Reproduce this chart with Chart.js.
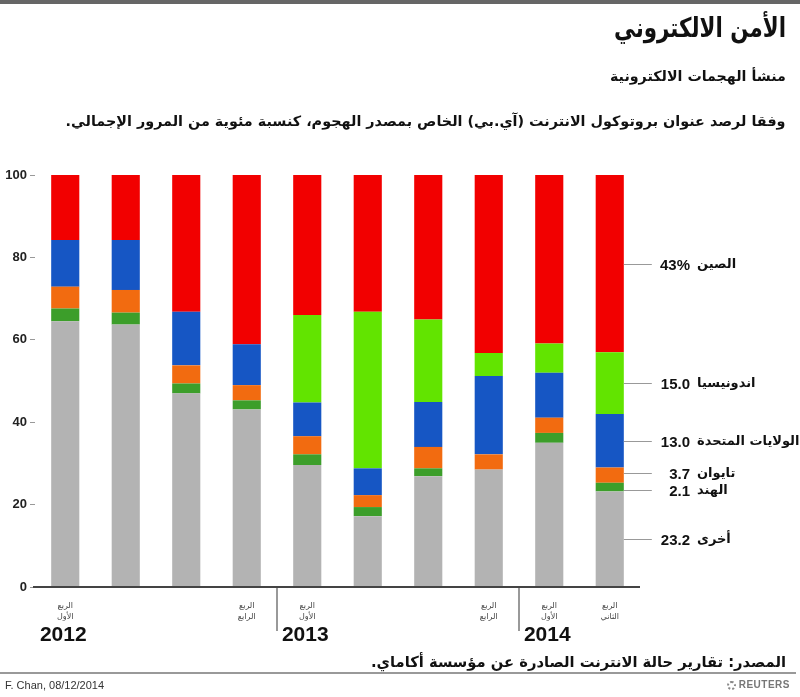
<!DOCTYPE html>
<html><head><meta charset="utf-8">
<script src="https://cdn.jsdelivr.net/npm/chart.js@4/dist/chart.umd.min.js"></script>
<style>
html,body{margin:0;padding:0;background:#fff;}
#wrap{position:relative;width:800px;height:697px;overflow:hidden;font-family:"DejaVu Sans",sans-serif;}
canvas{position:absolute;left:0;top:0;}
.t{position:absolute;direction:rtl;white-space:nowrap;color:#111;font-weight:bold;transform-origin:right center;}
</style></head><body>
<div id="wrap">
<canvas id="c" width="800" height="697"></canvas>
<div style="position:absolute;left:0;top:0;width:800px;height:4px;background:#666"></div>
<div class="t" id="title" style="right:14px;top:12px;font-size:27px;">الأمن الالكتروني</div>
<div class="t" id="sub" style="right:14px;top:68px;font-size:14px;">منشأ الهجمات الالكترونية</div>
<div class="t" id="desc" style="right:14px;top:113px;font-size:14px;">وفقا لرصد عنوان بروتوكول الانترنت (آي.بي) الخاص بمصدر الهجوم، كنسبة مئوية من المرور الإجمالي.</div>
<div class="t" id="src" style="right:14px;top:653px;font-size:15px;">المصدر: تقارير حالة الانترنت الصادرة عن مؤسسة أكاماي.</div>
<div style="position:absolute;left:0;top:672px;width:796px;height:2px;background:#999"></div>
<div style="position:absolute;left:5px;top:679px;font:11px 'Liberation Sans',sans-serif;color:#333">F. Chan, 08/12/2014</div>
<div style="position:absolute;right:10px;top:679px;font:bold 10px 'Liberation Sans',sans-serif;color:#777;letter-spacing:0.5px"><span style="display:inline-block;width:9px;height:9px;border:2px dotted #888;border-radius:50%;vertical-align:-2px;margin-right:3px;box-sizing:border-box"></span>REUTERS</div>
</div>
<script>
// ---- data ----
const categories = ['Q1 2012','Q2 2012','Q3 2012','Q4 2012','Q1 2013','Q2 2013','Q3 2013','Q4 2013','Q1 2014','Q2 2014'];
const tickLabels = [['الربع','الأول'],'','',['الربع','الرابع'],['الربع','الأول'],'','',['الربع','الرابع'],['الربع','الأول'],['الربع','الثاني']];
const yearLabels = ['2012','2013','2014'];
const yearFirstIndex = [0,4,8];
const otherVals     = [64.5, 63.7, 47.0, 43.1, 29.6, 17.2, 26.9, 28.5, 35.0, 23.2];
const indiaVals     = [3.1, 2.9, 2.4, 2.2, 2.6, 2.2, 1.9, 0, 2.4, 2.1];
const taiwanVals    = [5.3, 5.5, 4.4, 3.7, 4.4, 2.9, 5.2, 3.7, 3.7, 3.7];
const usVals        = [11.3, 12.1, 13.0, 9.9, 8.2, 6.5, 10.9, 19.0, 10.9, 13.0];
const indonesiaVals = [0, 0, 0, 0, 21.2, 38.0, 20.0, 5.6, 7.1, 15.0];
const chinaVals     = [15.8, 15.8, 33.2, 41.1, 34.0, 33.2, 35.1, 43.2, 40.9, 43.0];
const seriesNames = ['أخرى','الهند','تايوان','الولايات المتحدة','اندونيسيا','الصين'];
const yTicks = [0,20,40,60,80,100];

const colors = ['#b3b3b3','#3c9e2a','#f26b10','#1656c4','#62e400','#f20000'];
const seriesVals = [otherVals, indiaVals, taiwanVals, usVals, indonesiaVals, chinaVals];

// fit header texts
function fitW(id, w){const el=document.getElementById(id);const cw=el.getBoundingClientRect().width;el.style.transform='scaleX('+(w/cw)+')';}
fitW('title',172);fitW('sub',176);fitW('desc',720);fitW('src',415);

const overlay = {
  id:'overlay',
  afterDraw(chart){
    const ctx=chart.ctx, xs=chart.scales.x, ys=chart.scales.y, ca=chart.chartArea;
    const y0=ys.getPixelForValue(0);
    ctx.save();
    // baseline
    ctx.strokeStyle='#444';ctx.lineWidth=2;
    ctx.beginPath();ctx.moveTo(33,y0);ctx.lineTo(ca.right,y0);ctx.stroke();
    // year separators
    ctx.strokeStyle='#777';ctx.lineWidth=1.5;
    yearFirstIndex.slice(1).forEach(i=>{
      const x=(xs.getPixelForValue(i-1)+xs.getPixelForValue(i))/2;
      ctx.beginPath();ctx.moveTo(x,y0+1);ctx.lineTo(x,y0+44);ctx.stroke();
    });
    // year labels
    ctx.fillStyle='#111';ctx.font='bold 21px "Liberation Sans Narrow","Liberation Sans",sans-serif';
    ctx.textAlign='center';ctx.textBaseline='middle';
    yearLabels.forEach((t,k)=>{ctx.fillText(t,xs.getPixelForValue(yearFirstIndex[k])-2,y0+48);});
    // right labels for latest values
    const last=categories.length-1;
    const meta=chart.getDatasetMeta(0);
    const barRight=meta.data[last].x+meta.data[last].width/2;
    let cum=0;const pos=[];
    seriesVals.forEach((v,k)=>{const val=v[last];pos.push(ys.getPixelForValue(cum+val/2));cum+=val;});
    // spread overlapping labels (bottom series first -> largest y)
    for(let k=1;k<pos.length;k++){ if(pos[k-1]-pos[k]<17){const m=(pos[k-1]+pos[k])/2;pos[k-1]=m+8.5;pos[k]=m-8.5;} }
    seriesVals.forEach((v,k)=>{
      const y=Math.round(pos[k])+0.5;
      ctx.strokeStyle='#999';ctx.lineWidth=1;
      ctx.beginPath();ctx.moveTo(barRight,y);ctx.lineTo(barRight+28,y);ctx.stroke();
      const val=v[last];
      const txt=(k===seriesVals.length-1)?Math.round(val)+'%':val.toFixed(1);
      ctx.fillStyle='#111';ctx.textAlign='right';ctx.textBaseline='middle';ctx.direction='ltr';
      ctx.font='bold 15px "Liberation Sans",sans-serif';
      ctx.fillText(txt,690,y+1);
      ctx.direction='rtl';ctx.textAlign='left';
      ctx.font='bold 13px "DejaVu Sans",sans-serif';
      ctx.fillText(seriesNames[k],697,y);
    });
    ctx.restore();
  }
};

new Chart(document.getElementById('c'),{
  type:'bar',
  data:{labels:categories,datasets:seriesVals.map((v,k)=>({label:seriesNames[k],data:v,backgroundColor:colors[k],borderWidth:0}))},
  options:{
    responsive:false,animation:false,
    layout:{padding:{top:175,right:160,left:0,bottom:0}},
    plugins:{legend:{display:false},tooltip:{enabled:false}},
    datasets:{bar:{barPercentage:0.93,categoryPercentage:0.5}},
    scales:{
      x:{stacked:true,
        grid:{display:false},border:{display:false},
        afterFit(s){s.height=110;},
        ticks:{autoSkip:false,maxRotation:0,padding:6,color:'#444',
          font:{size:8,family:'"DejaVu Sans",sans-serif',lineHeight:1.35},
          callback:(v,i)=>tickLabels[i]}
      },
      y:{stacked:true,min:0,max:100,
        afterBuildTicks(s){s.ticks=yTicks.map(v=>({value:v}));},
        afterFit(s){s.width=35;},
        grid:{drawOnChartArea:false,drawTicks:true,tickLength:5,color:'#999'},
        border:{display:false},
        ticks:{padding:3,color:'#222',font:{size:13,weight:'bold',family:'"Liberation Sans",sans-serif'}}
      }
    }
  },
  plugins:[overlay]
});
</script>
</body></html>
